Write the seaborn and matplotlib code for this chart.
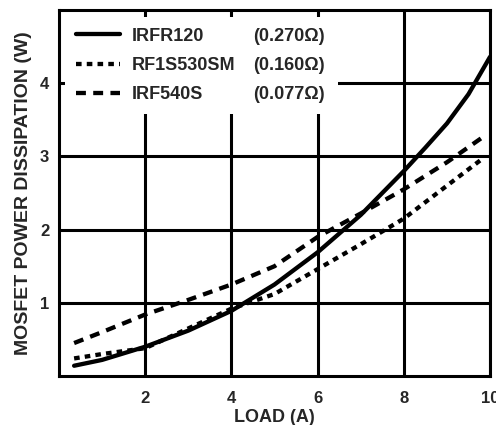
import matplotlib
matplotlib.use("Agg")
import matplotlib.pyplot as plt
import pandas as pd
import seaborn as sns

# values
load_irfr120 = [0.35, 1, 2, 3, 4, 5, 6, 7, 8, 8.5, 9, 9.5, 10]
pd_irfr120 = [0.14, 0.22, 0.40, 0.62, 0.89, 1.25, 1.69, 2.20, 2.80, 3.12, 3.45, 3.85, 4.36]

load_rf1s530sm = [0.35, 1, 2, 3, 4, 5, 6, 7, 8, 9, 9.85]
pd_rf1s530sm = [0.24, 0.30, 0.38, 0.65, 0.92, 1.12, 1.46, 1.80, 2.15, 2.60, 2.98]

load_irf540s = [0.35, 1, 2, 3, 4, 5, 6, 7, 8, 9, 9.8]
pd_irf540s = [0.45, 0.60, 0.84, 1.04, 1.25, 1.50, 1.90, 2.22, 2.55, 2.92, 3.25]

parts = ["IRFR120", "RF1S530SM", "IRF540S"]
resistances = ["(0.270\u03a9)", "(0.160\u03a9)", "(0.077\u03a9)"]
styles = [(None, None), (1.3, 1.2), (2.3, 1.7)]

x_ticks = [2, 4, 6, 8, 10]
y_ticks = [1, 2, 3, 4]

sns.set_style("white")
plt.rcParams["font.family"] = ["Liberation Sans", "DejaVu Sans"]
plt.rcParams["font.weight"] = "bold"

fig = plt.figure(figsize=(4.96, 4.25), dpi=100)
ax = fig.add_axes([0.119, 0.1153, 0.869, 0.8612])

series = [
    (load_irfr120, pd_irfr120),
    (load_rf1s530sm, pd_rf1s530sm),
    (load_irf540s, pd_irf540s),
]
for (xs, ys), name, dash in zip(series, parts, styles):
    df = pd.DataFrame({"load": xs, "power": ys})
    sns.lineplot(data=df, x="load", y="power", ax=ax, color="black",
                 linewidth=3.1, label=name)
    ln = ax.get_lines()[-1]
    if dash[0] is not None:
        ln.set_dashes(dash)
        ln.set_dash_capstyle("butt")
    ln.set_zorder(3)

ax.set_xlim(0, 10)
ax.set_ylim(0, 5)
ax.set_xticks(x_ticks)
ax.set_yticks(y_ticks)
ax.set_xticklabels([str(v) for v in x_ticks], fontsize=12, fontweight="bold")
ax.set_yticklabels([str(v) for v in y_ticks], fontsize=12, fontweight="bold")
ax.tick_params(axis="x", length=0, pad=11)
ax.tick_params(axis="y", length=0, pad=7)
ax.grid(True, color="black", linewidth=2.2)
ax.set_axisbelow(True)
for s in ax.spines.values():
    s.set_linewidth(2.2)
    s.set_color("black")
    s.set_zorder(4)

ax.set_xlabel("LOAD (A)", fontsize=13, fontweight="bold", labelpad=2)
ax.set_ylabel("MOSFET POWER DISSIPATION (W)", fontsize=14, fontweight="bold", labelpad=6)

leg = ax.legend(loc="upper left", bbox_to_anchor=(0.015, 0.70, 0.632, 0.281),
                mode="expand", frameon=True, fancybox=False, framealpha=1,
                facecolor="white", edgecolor="white", fontsize=13,
                handlelength=2.4, handletextpad=0.65, labelspacing=0.67,
                borderaxespad=0, borderpad=0.6)
leg.get_frame().set_linewidth(0)
leg.set_zorder(5)
for t in leg.get_texts():
    t.set_fontweight("bold")

fig.canvas.draw()
inv = ax.transAxes.inverted()
for t, r in zip(leg.get_texts(), resistances):
    bb = t.get_window_extent()
    _, yc = inv.transform(((bb.x0 + bb.x1) / 2, (bb.y0 + bb.y1) / 2))
    ax.text(0.45, yc, r, transform=ax.transAxes, fontsize=13,
            fontweight="bold", va="center", ha="left", zorder=6)

fig.savefig("out.png", dpi=100)
